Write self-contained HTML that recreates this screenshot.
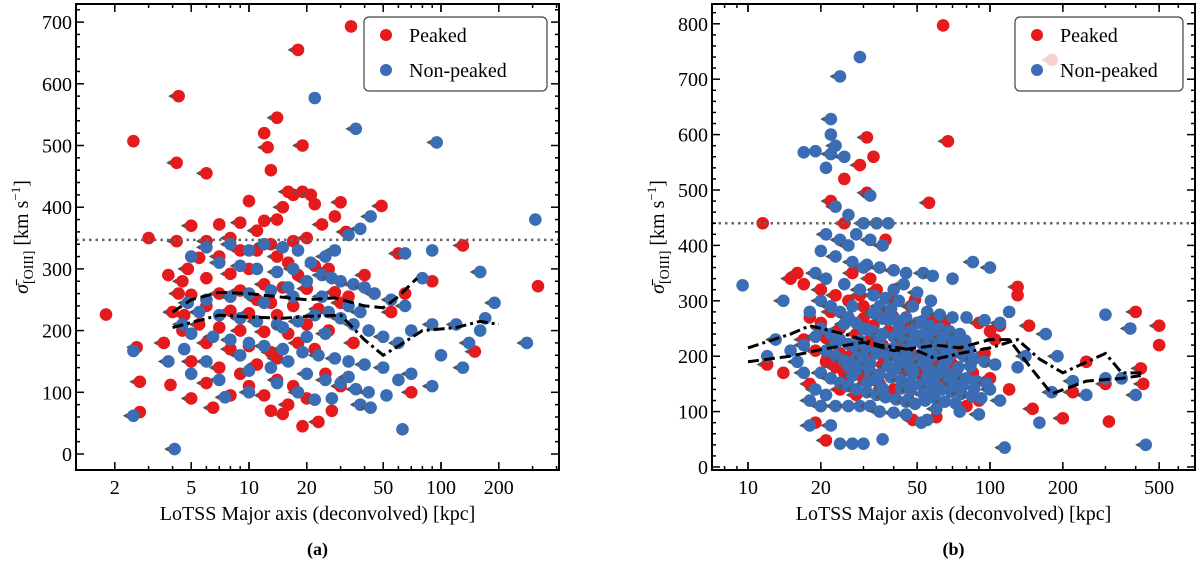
<!DOCTYPE html>
<html><head><meta charset="utf-8"><style>
body{margin:0;background:#fff}
svg{display:block;font-family:"Liberation Serif",serif}
</style></head><body>
<svg id="fig" width="1200" height="572" viewBox="0 0 1200 572" xmlns="http://www.w3.org/2000/svg"></svg>
<script>
const leftPeaked=[[34,693],[18,655],[4.3,580],[2.5,507],[4.2,472],[14,545],[12,520],[12.5,497],[19,500],[13,460],[6,455],[16,425],[17,420],[19,425],[21,420],[22,405],[30,408],[49,402],[10,410],[15,400],[14,380],[12,378],[9,375],[11,362],[7,372],[5,370],[24,372],[28,385],[32,360],[20,350],[17,345],[8,350],[6,345],[3,350],[4.2,345],[13,340],[11,330],[9,330],[7,320],[5.5,318],[4.8,300],[14,320],[16,310],[22,305],[26,300],[18,290],[10,300],[8,292],[6,285],[4.5,280],[12,275],[15,270],[20,268],[28,262],[33,255],[9,265],[7,260],[5,258],[11,250],[13,245],[17,240],[23,235],[30,245],[6,240],[8,232],[10,228],[14,225],[4.6,225],[5.5,210],[7,205],[9,200],[12,198],[16,195],[20,210],[26,200],[1.8,226],[2.6,173],[4.0,230],[4.5,200],[6,180],[8,170],[10,175],[13,165],[18,180],[22,170],[5,150],[7,140],[9,130],[11,145],[14,120],[17,110],[6,115],[2.7,117],[3.9,112],[12,95],[15,65],[19,45],[23,52],[2.7,68],[20,90],[60,325],[130,338],[90,280],[70,100],[150,166],[320,272],[40,290],[45,260],[25,130],[30,110],[55,230],[65,260],[35,180],[8,95],[10,110],[14,155],[16,80],[27,70],[5,90],[6.5,75],[13,70],[3.6,180],[4.3,260],[3.8,290]];
const leftNonPeaked=[[22,577],[36,527],[95,505],[310,380],[43,385],[38,365],[33,355],[28,330],[25,320],[18,330],[15,335],[12,340],[10,330],[8,340],[6,335],[5,320],[7,310],[9,305],[11,300],[14,295],[17,300],[21,310],[24,290],[27,285],[30,280],[35,275],[40,270],[45,260],[55,250],[65,240],[80,285],[65,325],[160,295],[90,330],[20,280],[16,270],[13,265],[10,260],[8,255],[6,250],[4.8,245],[5.5,230],[7,225],[9,220],[11,215],[14,210],[18,215],[22,225],[26,230],[30,220],[35,210],[42,200],[50,190],[60,180],[70,200],[90,210],[120,210],[170,220],[190,245],[140,180],[160,200],[280,180],[4.5,210],[5,195],[6.5,190],[8,185],[10,180],[12,175],[15,170],[19,165],[23,160],[28,155],[33,150],[40,145],[50,140],[60,120],[70,130],[90,110],[100,160],[130,140],[16,150],[13,140],[10,135],[7,120],[5,130],[20,130],[25,120],[30,115],[36,105],[42,100],[52,95],[38,80],[43,75],[63,40],[4.1,8],[2.5,62],[2.5,167],[7.5,92],[10,100],[14,115],[18,100],[22,88],[27,90],[33,125],[3.8,150],[4.6,170],[6,150],[9,160],[12,245],[17,255],[24,255],[33,240],[38,230],[15,205],[20,190],[25,195]];
const leftPeakedMedian=[[4,230],[5,250],[7,262],[10,260],[14,255],[20,250],[28,253],[40,240],[50,237],[60,255],[75,285]];
const leftNonPeakedMedian=[[4,205],[7,225],[10,222],[15,220],[20,223],[30,225],[40,185],[50,160],[60,175],[80,200],[120,205],[160,215],[200,210]];
const leftThreshold=347;
const rightPeaked=[[64,797],[67,588],[31,595],[33,560],[29,545],[31,495],[25,520],[22,480],[56,477],[11.5,440],[16,350],[15,340],[17,330],[20,320],[23,310],[26,300],[30,290],[35,280],[40,270],[45,260],[130,325],[130,310],[145,255],[110,255],[100,245],[400,280],[500,255],[500,220],[420,178],[430,150],[310,82],[200,88],[150,105],[250,190],[300,150],[220,135],[120,140],[90,120],[80,110],[60,90],[48,85],[21,48],[19,80],[20,110],[18,150],[14,170],[12,185],[22,200],[25,170],[30,160],[35,150],[40,140],[28,130],[24,140],[20,260],[24,250],[28,240],[32,230],[36,220],[42,210],[50,200],[60,195],[70,185],[85,170],[100,160],[22,280],[26,270],[33,255],[38,245],[45,235],[55,230],[65,220],[75,215],[17,230],[19,210],[21,190],[23,180],[27,205],[31,195],[36,185],[44,175],[52,165],[62,155],[72,145],[18,270],[29,310],[34,320],[40,300],[47,290],[55,270],[65,260],[90,260],[105,230],[80,200],[27,350],[32,340],[37,410],[25,440],[180,735],[43,227],[58,188],[33,212],[26,158],[39,128],[67,238],[49,302],[21,233],[53,147],[30,268],[95,205],[37,197],[61,268],[24,205],[46,122]];
const rightNonPeaked=[[29,740],[24,705],[22,628],[22,600],[23,580],[19,570],[17,568],[22,565],[25,560],[21,540],[32,490],[23,470],[26,455],[30,440],[34,440],[38,440],[21,420],[24,410],[28,420],[32,410],[36,400],[20,390],[23,380],[27,370],[31,365],[35,360],[40,355],[45,350],[53,350],[58,345],[70,340],[85,370],[100,360],[9.5,328],[19,350],[21,340],[25,330],[29,320],[33,310],[37,305],[42,300],[48,290],[55,280],[62,275],[70,270],[80,270],[95,265],[110,260],[120,280],[170,240],[190,200],[300,275],[380,250],[440,40],[300,160],[250,130],[180,135],[160,80],[115,35],[90,95],[75,100],[60,105],[55,85],[52,80],[45,95],[40,98],[36,50],[30,42],[27,42],[24,42],[22,75],[18,75],[20,110],[23,110],[26,110],[29,110],[32,110],[35,100],[18,280],[20,300],[22,290],[24,280],[26,270],[28,260],[30,250],[33,245],[36,240],[40,235],[44,230],[48,225],[53,220],[58,215],[64,210],[70,205],[78,200],[86,195],[95,190],[105,185],[20,250],[22,240],[24,230],[26,222],[28,215],[31,210],[34,205],[38,200],[42,195],[46,190],[50,185],[55,180],[60,175],[66,170],[73,165],[80,160],[88,155],[97,150],[21,210],[23,200],[25,192],[27,185],[29,178],[32,172],[35,167],[39,162],[43,157],[47,152],[52,148],[57,144],[63,140],[69,136],[76,132],[84,128],[92,124],[20,170],[22,160],[24,152],[26,146],[28,140],[31,135],[34,130],[37,126],[41,122],[45,118],[49,114],[54,120],[59,125],[65,118],[72,115],[19,140],[16,190],[15,210],[17,220],[19,235],[45,270],[50,260],[56,255],[62,250],[68,245],[75,240],[40,320],[44,330],[50,315],[57,300],[30,360],[26,400],[27,290],[35,290],[38,265],[42,255],[47,245],[53,240],[58,236],[14,300],[13,230],[12,200],[17,170],[18,120],[21,130],[100,140],[110,120],[130,180],[140,200],[220,155],[350,160],[400,130],[32,187],[37,213],[41,178],[45,207],[51,198],[56,228],[61,162],[66,192],[71,225],[83,182],[29,228],[34,158],[38,182],[43,142],[48,168],[54,205],[59,232],[64,183],[27,165],[31,248],[36,268],[39,285],[46,210],[52,262],[62,226],[74,180],[82,214],[25,258],[28,195],[33,278],[40,214],[44,188],[49,238],[55,163],[60,148],[68,158],[77,146],[86,142],[30,198],[35,232],[42,242],[47,176],[53,132],[57,172],[66,208],[23,222],[26,182],[31,152],[36,142],[41,265],[47,138],[53,190],[58,200],[64,235],[71,150],[79,228]];
const rightPeakedMedian=[[10,190],[15,200],[20,212],[30,225],[40,210],[50,215],[60,220],[75,215],[100,230],[120,230],[150,175],[180,132],[250,155],[350,160],[420,165]];
const rightNonPeakedMedian=[[10,215],[15,240],[18,255],[25,240],[35,220],[50,210],[60,195],[75,205],[100,215],[130,230],[160,195],[200,170],[300,205],[350,170],[430,170]];
const rightThreshold=440;
const leftXTicks=[2,5,10,20,50,100,200];
const rightXTicks=[10,20,50,100,200,500];
const leftYTicks=[0,100,200,300,400,500,600,700];
const rightYTicks=[0,100,200,300,400,500,600,700,800];

const NS="http://www.w3.org/2000/svg";
const svg=document.getElementById('fig');
function mk(tag,attrs,parent){const e=document.createElementNS(NS,tag);for(const k in attrs)e.setAttribute(k,attrs[k]);(parent||svg).appendChild(e);return e;}
const RED="#e41a1c",BLUE="#3b6db4";

function panel(cfg){
  const g=mk('g',{});
  
  
  const X=v=>cfg.x10+(Math.log10(v)-1)*cfg.dec;
  const Y=v=>cfg.y0-v*cfg.py;
  const clip='clip-'+cfg.name;
  const cp=mk('clipPath',{id:clip},g);mk('rect',{x:cfg.L,y:cfg.T,width:cfg.R-cfg.L,height:cfg.B-cfg.T},cp);
  const pts=mk('g',{'clip-path':'url(#'+clip+')'},g);
  function series(data,color,nm){
    data.forEach((d,i)=>{
      const cx=X(d[0]),cy=Y(d[1]);
      if(i%3!==0){
        const a=mk('path',{d:`M${cx-10.5},${cy} L${cx-6},${cy-2.6} L${cx-6},${cy+2.6}Z`,fill:'#555'},pts);
        
        
      }
      const c=mk('circle',{cx:cx,cy:cy,r:6.3,fill:color},pts);
      
      
    });
  }
  series(cfg.peaked,RED,'peaked-point');
  series(cfg.non,BLUE,'non-peaked-point');
  const th=mk('line',{x1:cfg.L,x2:cfg.R,y1:Y(cfg.th),y2:Y(cfg.th),stroke:'#666','stroke-width':2.5,'stroke-dasharray':'2.5,4'},pts);
  
  
  const l1=mk('polyline',{points:cfg.pm.map(d=>X(d[0])+','+Y(d[1])).join(' '),fill:'none',stroke:'#000','stroke-width':3,'stroke-dasharray':'11,5'},pts);
  
  
  const l2=mk('polyline',{points:cfg.nm.map(d=>X(d[0])+','+Y(d[1])).join(' '),fill:'none',stroke:'#000','stroke-width':3,'stroke-dasharray':'11,4,3,4'},pts);
  
  
  const fr=mk('rect',{x:cfg.L,y:cfg.T,width:cfg.R-cfg.L,height:cfg.B-cfg.T,fill:'none',stroke:'#000','stroke-width':2},g);
  
  
  for(let dec=0;dec<4;dec++){for(let m=1;m<10;m++){const v=m*Math.pow(10,dec);const px=X(v);if(px<=cfg.L+1||px>=cfg.R-1)continue;const len=m===1?8:4;
    mk('line',{x1:px,x2:px,y1:cfg.B,y2:cfg.B-len,stroke:'#000','stroke-width':1.5},g);
    mk('line',{x1:px,x2:px,y1:cfg.T,y2:cfg.T+len,stroke:'#000','stroke-width':1.5},g);}}
  cfg.xt.forEach(v=>{const t=mk('text',{x:X(v),y:cfg.B+24,'text-anchor':'middle','font-size':20},g);t.textContent=v;
    
    
    mk('line',{x1:X(v),x2:X(v),y1:cfg.B,y2:cfg.B-8,stroke:'#000','stroke-width':1.5},g);
    mk('line',{x1:X(v),x2:X(v),y1:cfg.T,y2:cfg.T+8,stroke:'#000','stroke-width':1.5},g);});
  for(let v=0;v<=cfg.ymax;v+=20){const py=Y(v);if(py<cfg.T+1||py>cfg.B-1)continue;const len=v%100===0?8:4;
    mk('line',{x1:cfg.L,x2:cfg.L+len,y1:py,y2:py,stroke:'#000','stroke-width':1.5},g);
    mk('line',{x1:cfg.R,x2:cfg.R-len,y1:py,y2:py,stroke:'#000','stroke-width':1.5},g);}
  cfg.yt.forEach(v=>{const t=mk('text',{x:cfg.L-4,y:Y(v)+7,'text-anchor':'end','font-size':20},g);t.textContent=v;
    
    });
  const xt=mk('text',{x:(cfg.L+cfg.R)/2,y:520,'text-anchor':'middle','font-size':20},g);xt.textContent='LoTSS Major axis (deconvolved) [kpc]';
  
  
  const yt=mk('text',{x:0,y:0,'text-anchor':'middle','font-size':20,transform:`translate(${cfg.L-48},${(cfg.T+cfg.B)/2}) rotate(-90)`},g);
  yt.innerHTML='<tspan font-style="italic">σ̄</tspan><tspan font-size="14" dy="5">[OIII]</tspan><tspan dy="-5"> [km s</tspan><tspan font-size="13" dy="-8">−1</tspan><tspan dy="8">]</tspan>';
  
  
  const cap=mk('text',{x:(cfg.L+cfg.R)/2,y:555,'text-anchor':'middle','font-size':18,'font-weight':'bold'},g);cap.textContent=cfg.cap;
  
  
  const lg=mk('g',{},g);
  
  
  mk('rect',{x:cfg.lx,y:17,width:cfg.R-12-cfg.lx,height:74,rx:5,fill:'#fff','fill-opacity':0.8,stroke:'#444','stroke-width':1.2},lg);
  const e1=mk('g',{},lg);
  mk('circle',{cx:cfg.lx+22,cy:35,r:6,fill:RED},e1);
  const t1=mk('text',{x:cfg.lx+45,y:42,'font-size':20},e1);t1.textContent='Peaked';
  const e2=mk('g',{},lg);
  mk('circle',{cx:cfg.lx+22,cy:70,r:6,fill:BLUE},e2);
  const t2=mk('text',{x:cfg.lx+45,y:77,'font-size':20},e2);t2.textContent='Non-peaked';
}
panel({name:'panel-a',L:76,R:559,T:4,B:470,x10:249,dec:192,y0:454,py:0.617,ymax:740,xt:leftXTicks,yt:leftYTicks,peaked:leftPeaked,non:leftNonPeaked,pm:leftPeakedMedian,nm:leftNonPeakedMedian,th:leftThreshold,cap:'(a)',lx:364});
panel({name:'panel-b',L:712,R:1195,T:4,B:470,x10:748,dec:242,y0:467,py:0.554,ymax:840,xt:rightXTicks,yt:rightYTicks,peaked:rightPeaked,non:rightNonPeaked,pm:rightPeakedMedian,nm:rightNonPeakedMedian,th:rightThreshold,cap:'(b)',lx:1015});
</script>
</body></html>
